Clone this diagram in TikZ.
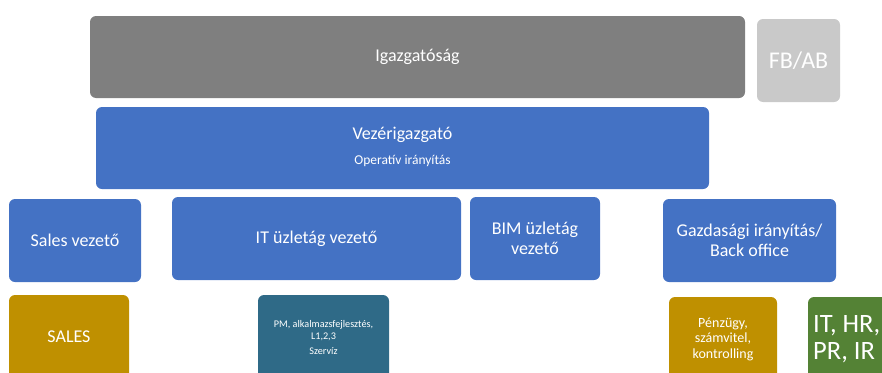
\documentclass[tikz,border=0pt]{standalone}
\usepackage{fontspec}
\setmainfont{Carlito}
\definecolor{board}{HTML}{7F7F7F}
\definecolor{audit}{HTML}{C9C9C9}
\definecolor{lead}{HTML}{4472C4}
\definecolor{gold}{HTML}{BF9000}
\definecolor{petrol}{HTML}{2F6A87}
\definecolor{leaf}{HTML}{548235}

\tikzset{
  unit/.style={rounded corners=6pt,text=white,align=center,inner sep=0pt,
    font=\fontsize{18}{20}\selectfont},
  small/.style={font=\fontsize{14}{15.5}\selectfont}
}

\begin{document}
\begin{tikzpicture}[x=1pt,y=-1pt]
  \useasboundingbox (0,0) rectangle (882,372);

  % Top level: board and supervisory board.
  \node[unit,fill=board,minimum width=655,minimum height=82] (board) at (417.5,57) {Igazgatóság};
  \node[unit,fill=audit,minimum width=83,minimum height=83,font=\fontsize{24}{28}\selectfont] (fbab) at (798.5,60.5) {FB/AB};

  % CEO.
  \node[unit,fill=lead,minimum width=613,minimum height=82] (ceo) at (402.5,148) {};
  \node[text=white,font=\fontsize{18}{20}\selectfont] (ceotitle) at (402.5,135) {Vezérigazgató};
  \node[text=white,font=\fontsize{13.5}{15}\selectfont] (ceosub) at (402.5,161) {Operatív irányítás};

  % Managers.
  \node[unit,fill=lead,minimum width=132,minimum height=83] (salesmgr) at (75,240.5) {Sales vezető};
  \node[unit,fill=lead,minimum width=289,minimum height=83] (itmgr) at (316.5,238.5) {IT üzletág vezető};
  \node[unit,fill=lead,minimum width=130,minimum height=83] (bimmgr) at (535,238.5) {BIM üzletág\\vezető};
  \node[unit,fill=lead,minimum width=173,minimum height=83] (backoffice) at (749.5,240.5) {Gazdasági irányítás/\\Back office};

  % Departments (cut by the lower edge).
  \node[unit,fill=gold,minimum width=120,minimum height=84] (sales) at (69,337) {SALES};
  \node[unit,fill=petrol,minimum width=131,minimum height=84,font=\fontsize{10.2}{12.5}\selectfont] (itdept) at (323.5,337) {PM, alkalmazsfejlesztés,\\L1,2,3\\[2pt]Szervíz};
  \node[unit,small,fill=gold,minimum width=108,minimum height=84] (finance) at (723,339) {Pénzügy,\\számvitel,\\kontrolling};
  \node[unit,fill=leaf,minimum width=100,minimum height=84] (support) at (858,339) {};
  \node[anchor=west,text=white,inner sep=0pt,align=left,font=\fontsize{26.5}{27}\selectfont] (supporttext) at (813,339) {IT, HR,\\PR, IR};
\end{tikzpicture}
\end{document}
